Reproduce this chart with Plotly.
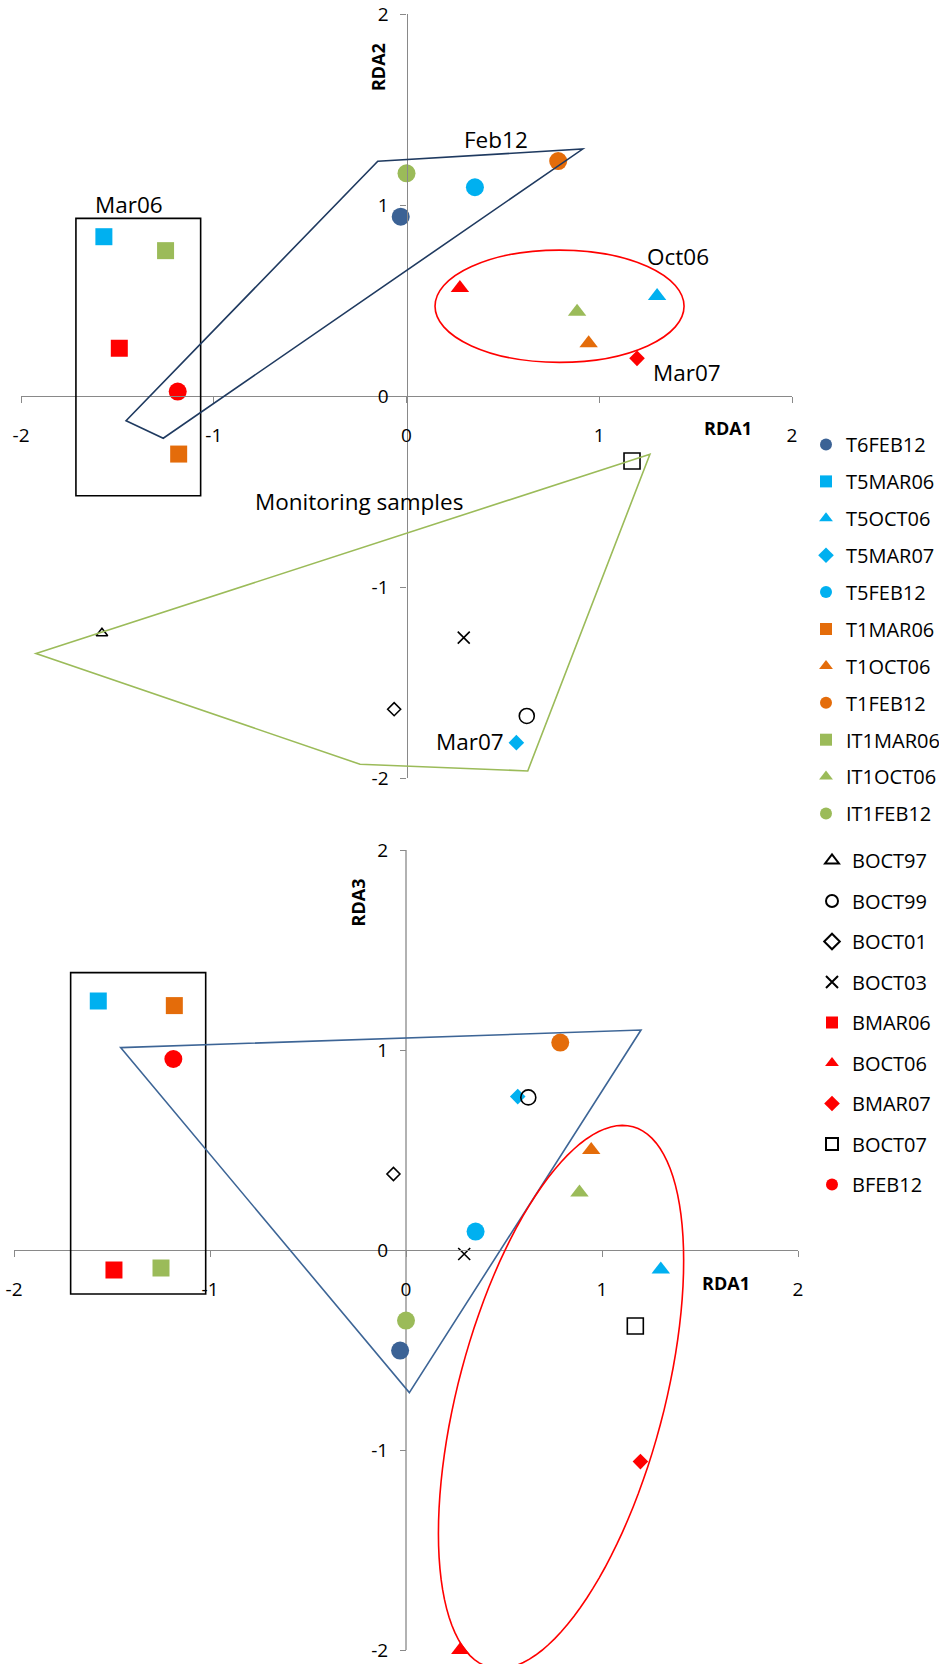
import numpy as np
import plotly.graph_objects as go

# ---- RDA site scores -------------------------------------------------------
samples = ["T6FEB12", "T5MAR06", "T5OCT06", "T5MAR07", "T5FEB12", "T1MAR06",
           "T1OCT06", "T1FEB12", "IT1MAR06", "IT1OCT06", "IT1FEB12", "BOCT97",
           "BOCT99", "BOCT01", "BOCT03", "BMAR06", "BOCT06", "BMAR07", "BOCT07",
           "BFEB12"]
rda1 = [-0.03, -1.57, 1.30, 0.57, 0.355, -1.182, 0.945, 0.787, -1.25, 0.885,
        0.0, -1.58, 0.624, -0.064, 0.297, -1.49, 0.277, 1.196, 1.17, -1.187]
rda2 = [0.939, 0.834, 0.524, -1.815, 1.093, -0.304, 0.276, 1.23, 0.761, 0.441,
        1.166, -1.242, -1.675, -1.64, -1.265, 0.25, 0.565, 0.197, -0.34, 0.023]
rda3 = [-0.503, 1.245, -0.097, 0.767, 0.092, 1.222, 0.50, 1.037, -0.09, 0.287,
        -0.353, None, 0.763, 0.38, -0.02, -0.10, -2.0, -1.058, -0.38, 0.955]

tick_vals = [-2, -1, 0, 1, 2]
tick_text = ["-2", "-1", "0", "1", "2"]

# ---- marker styling per sample --------------------------------------------
NAVY, CYAN, ORANGE, GREEN, RED, BLACK = "#3B6295", "#00B0F0", "#E46C0A", "#9BBB59", "#FF0000", "#000000"
colors = [NAVY, CYAN, CYAN, CYAN, CYAN, ORANGE, ORANGE, ORANGE, GREEN, GREEN,
          GREEN, BLACK, BLACK, BLACK, BLACK, RED, RED, RED, BLACK, RED]
symbols = ["circle", "square", "triangle-up", "diamond", "circle", "square",
           "triangle-up", "circle", "square", "triangle-up", "circle",
           "triangle-up-open", "circle-open", "diamond-open", "x-thin-open",
           "square", "triangle-up", "diamond", "square-open", "circle"]
size_by_symbol = {"circle": 18, "square": 17, "triangle-up": 16, "diamond": 12,
                  "triangle-up-open": 10, "circle-open": 15, "diamond-open": 10,
                  "x-thin-open": 12, "square-open": 16}

FONT = "Open Sans"
AXIS_GREY = "#898989"
W, H = 939, 1664

# ---- subplot geometry (pixels) ---------------------------------------------
top_x_px = (21, 792)
top_y_px = (14, 778)          # RDA2 from 2 down to -2
bot_x_px = (14, 798)
bot_y_px = (850, 1664)        # RDA3 from 2 down to -2.07
bot_yrange = [-2.07, 2]

def xdom(px):
    return [px[0] / W, px[1] / W]

def ydom(px):
    return [1 - px[1] / H, 1 - px[0] / H]

fig = go.Figure()

for i, name in enumerate(samples):
    sym = symbols[i]
    open_sym = sym.endswith("-open")
    mk = dict(symbol=sym, color=colors[i], size=size_by_symbol[sym],
              line=dict(width=1.6 if open_sym else 0, color=colors[i]))
    legend_id = "legend" if i < 11 else "legend2"
    fig.add_trace(go.Scatter(x=[rda1[i]], y=[rda2[i]], mode="markers", name=name,
                             marker=mk, xaxis="x", yaxis="y", cliponaxis=False,
                             legend=legend_id, legendgroup=name, showlegend=True))
    fig.add_trace(go.Scatter(x=[rda1[i]], y=[rda3[i]], mode="markers", name=name,
                             marker=mk, xaxis="x2", yaxis="y2", cliponaxis=False,
                             legend=legend_id, legendgroup=name, showlegend=False))

axis_common = dict(tickmode="array", tickvals=tick_vals, ticktext=tick_text,
                   ticks="outside", ticklen=6, tickwidth=1.3, tickcolor=AXIS_GREY,
                   showline=True, linecolor=AXIS_GREY, linewidth=1.3,
                   showgrid=False, zeroline=False, anchor="free", automargin=False,
                   tickfont=dict(family=FONT, size=19, color="black"))

top_xd, top_yd = xdom(top_x_px), ydom(top_y_px)
bot_xd, bot_yd = xdom(bot_x_px), ydom(bot_y_px)

fig.update_layout(
    xaxis=dict(axis_common, domain=top_xd, range=[-2, 2],
               position=(top_yd[0] + top_yd[1]) / 2, ticklabelstandoff=16),
    yaxis=dict(axis_common, domain=top_yd, range=[-2, 2],
               position=(top_xd[0] + top_xd[1]) / 2, ticklabelstandoff=8),
    xaxis2=dict(axis_common, domain=bot_xd, range=[-2, 2],
                position=1 - 1250 / H, ticklabelstandoff=16),
    yaxis2=dict(axis_common, domain=bot_yd, range=bot_yrange, showline=False,
                position=(bot_xd[0] + bot_xd[1]) / 2, ticklabelstandoff=8),
)

# ---- group outlines ----------------------------------------------------------
def poly_path(pts):
    return "M " + " L ".join(f"{x},{y}" for x, y in pts) + " Z"

feb12_hull = [(-0.149, 1.229), (0.914, 1.293), (-1.262, -0.221), (-1.455, -0.129)]
monitoring_hull = [(1.263, -0.305), (0.629, -1.963), (-0.241, -1.928), (-1.922, -1.348)]
feb12_hull_rda3 = [(-1.456, 1.012), (1.199, 1.10), (0.017, -0.713)]

# tilted ellipse around Oct06/Mar07 in the RDA1-RDA3 plane
ell_center = (0.791, -0.735)
ell_axes = (1.40, 0.525)
ell_tilt = np.radians(15.2)
t = np.linspace(0, 2 * np.pi, 121)
u = np.array([np.sin(ell_tilt), np.cos(ell_tilt)])
v = np.array([np.cos(ell_tilt), -np.sin(ell_tilt)])
ex = ell_center[0] + ell_axes[0] * np.cos(t) * u[0] + ell_axes[1] * np.sin(t) * v[0]
ey = ell_center[1] + ell_axes[0] * np.cos(t) * u[1] + ell_axes[1] * np.sin(t) * v[1]
ellipse_path = poly_path(list(zip(np.round(ex, 4), np.round(ey, 4))))

shapes = [
    dict(type="rect", xref="x", yref="y", x0=-1.715, x1=-1.068, y0=-0.522, y1=0.930,
         line=dict(color="black", width=1.6)),
    dict(type="path", xref="x", yref="y", path=poly_path(feb12_hull),
         line=dict(color="#1F3A60", width=1.6)),
    dict(type="circle", xref="x", yref="y", x0=0.148, x1=1.440, y0=0.176, y1=0.764,
         line=dict(color=RED, width=1.6)),
    dict(type="path", xref="x", yref="y", path=poly_path(monitoring_hull),
         line=dict(color=GREEN, width=1.6)),
    dict(type="line", xref="x2", yref="y2", x0=0, x1=0, y0=-2, y1=2, layer="below",
         line=dict(color=AXIS_GREY, width=1.3)),
    dict(type="rect", xref="x2", yref="y2", x0=-1.711, x1=-1.022, y0=-0.22, y1=1.387,
         line=dict(color="black", width=1.6)),
    dict(type="path", xref="x2", yref="y2", path=poly_path(feb12_hull_rda3),
         line=dict(color="#3D6596", width=1.6)),
    dict(type="path", xref="x2", yref="y2", path=ellipse_path,
         line=dict(color=RED, width=1.6)),
]

def label(text, x, y, xref="x", yref="y", size=22.5, bold=False, angle=0):
    return dict(text=f"<b>{text}</b>" if bold else text, x=x, y=y, xref=xref, yref=yref,
                showarrow=False, xanchor="center", yanchor="middle", textangle=angle,
                font=dict(family=FONT, size=size, color="black"))

annotations = [
    label("Mar06", -1.44, 1.005),
    label("Feb12", 0.462, 1.343),
    label("Oct06", 1.406, 0.728),
    label("Mar07", 1.455, 0.122),
    label("Monitoring samples", -0.249, -0.55),
    label("Mar07", 0.329, -1.81),
    label("RDA2", -0.148, 1.722, size=18, bold=True, angle=-90),
    label("RDA1", 1.668, -0.168, size=18, bold=True),
    label("RDA3", -0.245, 1.7375, xref="x2", yref="y2", size=18, bold=True, angle=-90),
    label("RDA1", 1.633, -0.165, xref="x2", yref="y2", size=18, bold=True),
]

legend_common = dict(font=dict(family=FONT, size=20, color="black"),
                     traceorder="grouped", itemsizing="constant",
                     bgcolor="rgba(0,0,0,0)", borderwidth=0,
                     xanchor="left", yanchor="top")

fig.update_layout(
    width=W, height=H, margin=dict(l=0, r=0, t=0, b=0, autoexpand=False),
    paper_bgcolor="white", plot_bgcolor="white",
    shapes=shapes, annotations=annotations,
    legend=dict(legend_common, x=806 / W, y=1 - 425 / H, tracegroupgap=7.9),
    legend2=dict(legend_common, x=812 / W, y=1 - 841 / H, tracegroupgap=11.5),
    font=dict(family=FONT),
)

fig.write_html("out.html")
